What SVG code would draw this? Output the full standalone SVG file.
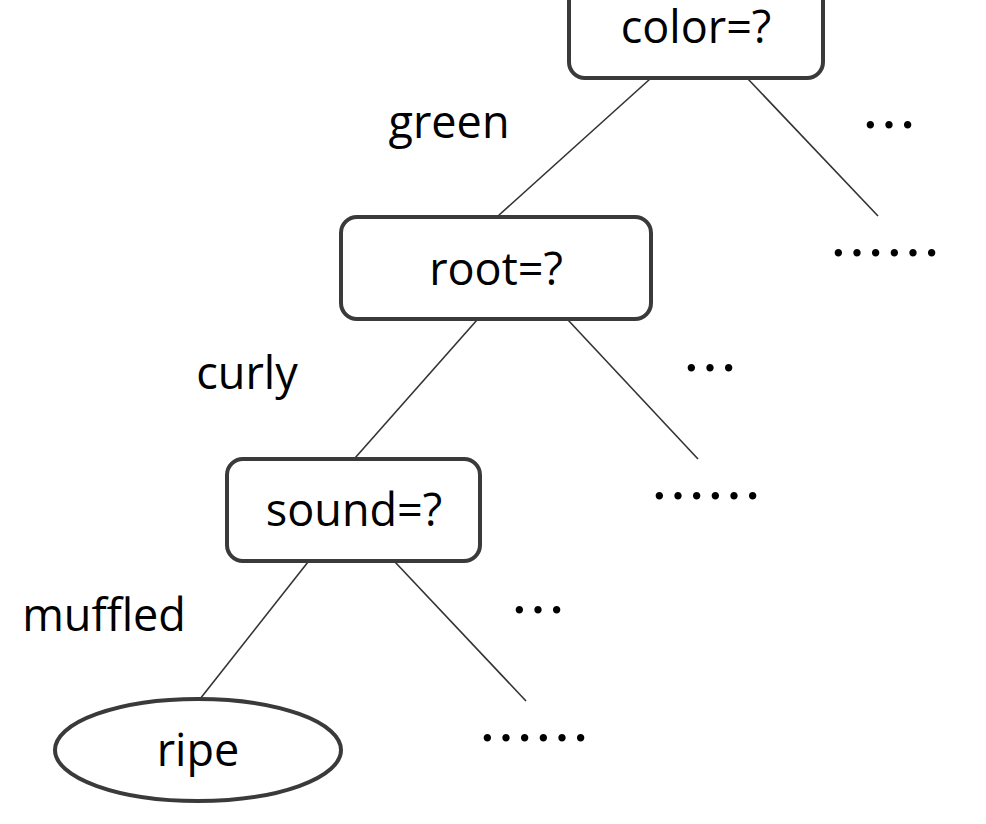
<svg xmlns="http://www.w3.org/2000/svg" width="986" height="824" viewBox="0 0 986 824">
<style>
.box{fill:#fff;stroke:#3a3a3a;stroke-width:4}
.edge{stroke:#333;stroke-width:1.6;fill:none}
text{font-family:"Open Sans","Noto Sans",sans-serif;font-size:45px;fill:#000}
.c{text-anchor:middle}
.dots{font-family:"Noto Sans CJK SC",sans-serif;font-size:56px}
</style>
<rect width="986" height="824" fill="#fff"/>
<g id="connectors">
<line class="edge" x1="650" y1="79" x2="498" y2="216"/>
<line class="edge" x1="748" y1="79" x2="878" y2="216"/>
<line class="edge" x1="477" y1="320" x2="355" y2="458"/>
<line class="edge" x1="568" y1="320" x2="698" y2="459"/>
<line class="edge" x1="308" y1="562" x2="200" y2="699"/>
<line class="edge" x1="395" y1="562" x2="526" y2="701"/>
</g>
<g id="node-color">
<rect class="box" x="569" y="-30" width="254" height="108" rx="16"/>
<text class="c" x="696" y="43">color=?</text>
</g>
<g id="node-root">
<rect class="box" x="341" y="217" width="310" height="102" rx="16"/>
<text class="c" x="496" y="285">root=?</text>
</g>
<g id="node-sound">
<rect class="box" x="227" y="459" width="253" height="102" rx="16"/>
<text class="c" x="354" y="526">sound=?</text>
</g>
<g id="node-ripe">
<ellipse class="box" cx="198" cy="750" rx="143" ry="51"/>
<text class="c" x="198" y="766">ripe</text>
</g>
<g id="labels">
<text class="c" x="449" y="138">green</text>
<text class="c" x="247" y="389">curly</text>
<text class="c" x="104" y="631">muffled</text>
<text class="c dots" x="889" y="146">…</text>
<text class="c dots" x="885" y="274">……</text>
<text class="c dots" x="710" y="389">…</text>
<text class="c dots" x="706" y="517">……</text>
<text class="c dots" x="538" y="631">…</text>
<text class="c dots" x="534" y="759">……</text>
</g>
</svg>
